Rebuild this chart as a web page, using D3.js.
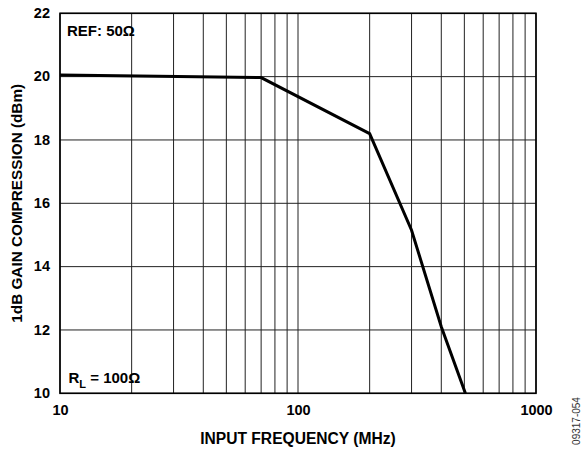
<!DOCTYPE html>
<html>
<head>
<meta charset="utf-8">
<script src="https://cdn.jsdelivr.net/npm/d3@7"></script>
<style>
  body { margin: 0; background: #fff; }
  svg { display: block; }
  text { font-family: Arial, "Liberation Sans", Helvetica, sans-serif; }
</style>
</head>
<body>
<svg id="chart" width="584" height="450"></svg>
<script>
// Data
const freqMHz = [10, 70, 200, 300, 400, 505];
const gainCompression = [20.05, 19.97, 18.2, 15.15, 12.1, 10];
const xTickValues = [10, 100, 1000];
const yTickValues = [10, 12, 14, 16, 18, 20, 22];
const xGridValues = [10,20,30,40,50,60,70,80,90,100,200,300,400,500,600,700,800,900,1000];

const svg = d3.select("#chart");
const mLeft = 60, mRight = 536, mTop = 13.3, mBottom = 393.3;

const x = d3.scaleLog().domain([10, 1000]).range([mLeft, mRight]);
const y = d3.scaleLinear().domain([10, 22]).range([mBottom, mTop]);

// grid
const g = svg.append("g");
g.selectAll("line.vg").data(xGridValues).enter().append("line")
  .attr("x1", d => x(d)).attr("x2", d => x(d))
  .attr("y1", mTop).attr("y2", mBottom)
  .attr("stroke", "#222").attr("stroke-width", 1);
g.selectAll("line.hg").data(yTickValues).enter().append("line")
  .attr("x1", mLeft).attr("x2", mRight)
  .attr("y1", d => y(d)).attr("y2", d => y(d))
  .attr("stroke", "#222").attr("stroke-width", 1);

// frame
svg.append("rect").attr("x", mLeft).attr("y", mTop)
  .attr("width", mRight - mLeft).attr("height", mBottom - mTop)
  .attr("fill", "none").attr("stroke", "#000").attr("stroke-width", 1.6);

// axes labels via d3 axes (lines hidden)
const xAxis = svg.append("g").attr("transform", `translate(0,${mBottom})`)
  .call(d3.axisBottom(x).tickValues(xTickValues).tickFormat(d3.format("d")).tickSize(0).tickPadding(11.5));
xAxis.select(".domain").remove();
xAxis.selectAll("text").attr("font-size", 14.5).attr("font-weight", "bold").attr("fill", "#000")
  .attr("font-family", "Arial, 'Liberation Sans', sans-serif");

const yAxis = svg.append("g").attr("transform", `translate(${mLeft},0)`)
  .call(d3.axisLeft(y).tickValues(yTickValues).tickFormat(d3.format("d")).tickSize(0).tickPadding(10));
yAxis.select(".domain").remove();
yAxis.selectAll("text").attr("font-size", 14.5).attr("font-weight", "bold").attr("fill", "#000")
  .attr("dy", "0.3em")
  .attr("font-family", "Arial, 'Liberation Sans', sans-serif");

// data line
const line = d3.line().x(d => x(d[0])).y(d => y(d[1]));
svg.append("path")
  .datum(freqMHz.map((f, i) => [f, gainCompression[i]]))
  .attr("d", line)
  .attr("fill", "none").attr("stroke", "#000").attr("stroke-width", 3)
  .attr("stroke-linejoin", "miter");

// axis titles
svg.append("text").attr("x", 298).attr("y", 444).attr("text-anchor", "middle")
  .attr("font-size", 15.6).attr("font-weight", "bold").text("INPUT FREQUENCY (MHz)");
svg.append("text").attr("transform", `translate(21.5,${(mTop + mBottom) / 2}) rotate(-90)`)
  .attr("text-anchor", "middle")
  .attr("font-size", 15.3).attr("font-weight", "bold").text("1dB GAIN COMPRESSION (dBm)");

// annotations
svg.append("text").attr("x", 67).attr("y", 36)
  .attr("font-size", 15).attr("font-weight", "bold").text("REF: 50Ω");
const rl = svg.append("text").attr("x", 68.5).attr("y", 383.3)
  .attr("font-size", 15).attr("font-weight", "bold");
rl.append("tspan").text("R");
rl.append("tspan").attr("font-size", 11).attr("dy", 5).text("L");
rl.append("tspan").attr("dy", -5).text(" = 100Ω");

// figure id
svg.append("text").attr("transform", "translate(580,421) rotate(-90)")
  .attr("text-anchor", "middle").attr("font-size", 10).attr("fill", "#333")
  .text("09317-054");
</script>
</body>
</html>
